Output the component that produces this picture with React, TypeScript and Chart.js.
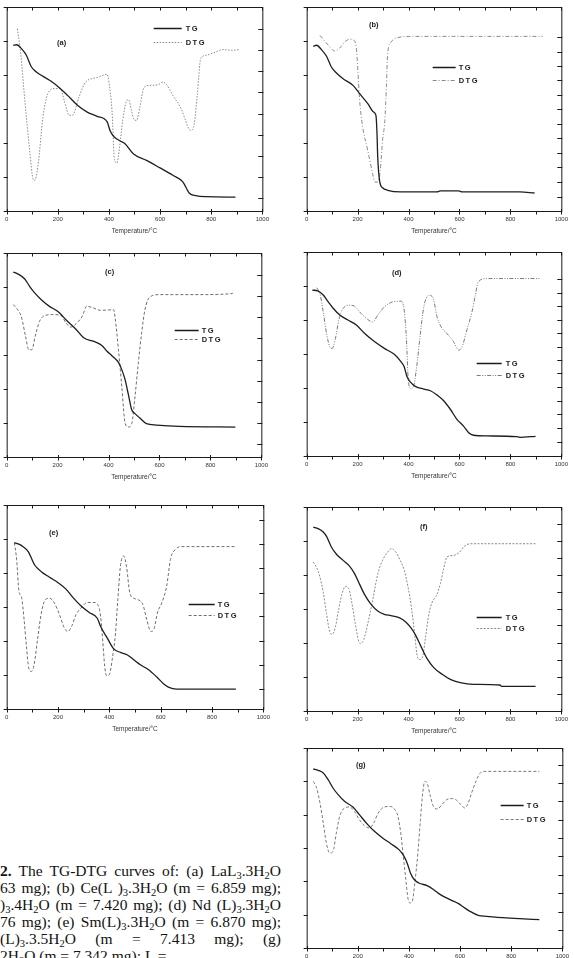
import React, { useEffect, useRef } from 'react';
import { Chart, registerables } from 'chart.js';
Chart.register(...registerables);

// ---------- shared axis data ----------
const xTickValues = [0, 200, 400, 600, 800, 1000];
const xTickLabels = ['0', '200', '400', '600', '800', '1000'];
const xMinorTicks = [0, 100, 200, 300, 400, 500, 600, 700, 800, 900, 1000];
const tgTicks = [0, 20, 40, 60, 80, 100, 120];

// ---------- (a) ----------
const aTgT = [26, 39, 58, 77, 97, 116, 142, 174, 206, 238, 277, 315, 354, 393, 405, 421, 444, 463, 495, 547, 598, 650, 689, 714, 740, 779, 895];
const aTgV = [97.5, 97.8, 95.5, 91.6, 84.7, 81.8, 79.2, 76.3, 72.5, 68.0, 62.2, 58.2, 55.7, 52.4, 47.1, 43.5, 41.2, 39.6, 33.7, 29.8, 25.5, 21.0, 17.1, 10.6, 9.0, 8.4, 8.2];
const aDtgT = [42, 55, 71, 90, 103, 109, 122, 142, 161, 187, 210, 225, 245, 257, 283, 309, 354, 393, 400, 412, 422, 431, 441, 454, 467, 477, 488, 498, 508, 521, 537, 560, 592, 611, 624, 650, 682, 695, 712, 721, 734, 746, 759, 779, 817, 843, 882, 907];
const aDtgV = [89.4, 77.1, 54.2, 29.7, 15.8, 15.0, 21.6, 46.1, 57.5, 60.0, 60.0, 54.2, 46.9, 46.9, 55.9, 63.2, 65.4, 67.0, 63.2, 49.3, 24.8, 23.5, 30.6, 44.4, 53.4, 54.6, 49.3, 44.8, 44.4, 51.0, 60.5, 61.6, 61.9, 63.2, 62.1, 56.7, 50.2, 46.1, 40.4, 39.5, 42.8, 57.5, 74.7, 76.3, 77.9, 79.1, 78.8, 79.1];
const aDtgTicks = [6.5, 16.7, 26.8, 37.3, 47.7, 58.2, 68.6, 79.1, 89.4];

// ---------- (b) ----------
const bTgT = [26, 39, 58, 78, 97, 117, 143, 182, 208, 240, 263, 272, 276, 279, 287, 298, 318, 370, 512, 525, 597, 610, 837, 895];
const bTgV = [96.9, 97.5, 94.9, 91.0, 84.7, 81.2, 77.8, 73.9, 69.0, 63.1, 58.2, 56.3, 46.5, 31.8, 17.1, 13.7, 12.2, 11.2, 11.2, 11.8, 11.8, 11.2, 11.2, 10.6];
const bDtgT = [52, 71, 91, 110, 130, 149, 169, 185, 195, 201, 208, 220, 240, 259, 268, 279, 289, 298, 307, 313, 318, 331, 357, 409, 577, 927];
const bDtgV = [86.1, 83.3, 80.4, 78.4, 79.9, 82.8, 84.2, 83.7, 79.9, 69.0, 54.2, 41.2, 29.7, 18.3, 14.2, 14.2, 19.9, 34.6, 44.4, 60.8, 77.1, 82.8, 85.0, 85.6, 85.6, 85.6];
const bDtgTicks = [6.9, 14.2, 21.6, 28.4, 35.8, 42.8, 50.2, 57.0, 64.1, 70.9, 77.9, 85.3];

// ---------- (c) ----------
const cTgT = [26, 45, 71, 90, 110, 136, 168, 200, 239, 271, 304, 342, 375, 394, 413, 439, 452, 465, 478, 491, 504, 523, 549, 588, 678, 898];
const cTgV = [108.8, 107.6, 104.7, 100.4, 96.5, 92.5, 88.6, 85.7, 79.8, 75.3, 70.0, 68.0, 65.5, 62.2, 59.6, 55.7, 51.4, 45.5, 36.7, 27.8, 25.5, 22.9, 19.6, 18.8, 18.0, 17.6];
const cDtgT = [26, 43, 58, 74, 87, 99, 112, 129, 149, 181, 213, 233, 252, 278, 297, 314, 342, 368, 420, 426, 439, 452, 465, 478, 491, 504, 517, 530, 543, 562, 601, 756, 885, 891];
const cDtgV = [74.7, 72.2, 68.6, 59.2, 52.6, 52.6, 59.2, 66.5, 69.3, 69.8, 69.4, 65.7, 63.7, 66.0, 69.0, 73.9, 73.0, 71.9, 72.2, 68.1, 52.6, 34.6, 16.7, 14.7, 16.3, 29.7, 46.1, 60.8, 72.2, 78.4, 79.6, 79.6, 80.1, 80.7];
const cDtgTicks = [6.5, 16.7, 26.8, 37.3, 47.7, 58.2, 68.6, 79.1, 89.4];

// ---------- (d) ----------
const dTgT = [22, 43, 65, 84, 104, 130, 162, 195, 227, 266, 305, 344, 370, 383, 393, 406, 428, 460, 486, 512, 538, 564, 590, 616, 636, 655, 707, 824, 837, 899];
const dTgV = [97.6, 97.1, 94.7, 90.8, 86.9, 82.9, 80.0, 77.1, 72.2, 67.3, 63.3, 59.8, 55.5, 52.5, 47.1, 43.7, 40.8, 39.4, 38.4, 35.9, 32.5, 27.5, 21.6, 17.6, 13.7, 12.2, 11.8, 11.4, 11.0, 11.6];
const dDtgT = [39, 52, 65, 78, 91, 100, 113, 126, 143, 169, 188, 214, 240, 259, 279, 305, 337, 370, 383, 392, 399, 409, 419, 432, 445, 460, 480, 497, 512, 528, 551, 577, 597, 610, 629, 649, 661, 674, 707, 914];
const dDtgV = [82.5, 79.6, 70.6, 60.0, 53.5, 52.7, 57.6, 66.6, 72.3, 73.9, 73.4, 69.8, 66.9, 65.7, 69.0, 73.1, 75.5, 75.9, 71.5, 56.8, 37.2, 33.1, 33.9, 43.7, 58.4, 73.1, 78.8, 77.2, 68.2, 63.3, 60.0, 56.0, 51.9, 53.5, 61.7, 70.6, 78.0, 85.3, 87.0, 87.0];
const dDtgTicks = [7.0, 13.5, 20.6, 27.1, 33.6, 40.5, 47.0, 53.5, 60.4, 66.9, 73.4, 79.9, 86.6];

// ---------- (e) ----------
const eTgT = [30, 45, 64, 84, 109, 135, 167, 199, 231, 257, 289, 321, 353, 366, 392, 418, 443, 469, 495, 521, 553, 585, 611, 630, 662, 893];
const eTgV = [97.8, 97.1, 95.5, 92.6, 84.7, 80.8, 77.5, 74.4, 70.5, 65.8, 60.7, 56.8, 53.4, 48.5, 41.7, 35.2, 33.3, 31.9, 29.0, 26.0, 23.1, 18.8, 14.9, 12.9, 11.7, 11.7];
const eDtgT = [30, 39, 48, 58, 68, 77, 86, 96, 107, 120, 135, 150, 167, 186, 206, 225, 238, 253, 270, 289, 315, 341, 357, 366, 374, 382, 389, 400, 411, 424, 433, 443, 456, 467, 480, 495, 514, 531, 546, 562, 575, 587, 604, 623, 639, 656, 681, 893];
const eDtgV = [81.6, 73.1, 57.6, 54.8, 43.7, 30.7, 20.1, 18.4, 21.7, 33.9, 47.0, 53.5, 54.3, 51.9, 46.2, 39.6, 38.0, 40.5, 46.2, 49.4, 52.2, 52.2, 50.6, 45.4, 33.9, 20.9, 16.3, 16.8, 24.1, 37.2, 53.5, 69.8, 75.0, 69.8, 56.8, 54.3, 53.5, 51.1, 43.7, 38.0, 39.6, 47.0, 51.9, 60.0, 73.9, 78.0, 79.6, 79.6];
const eDtgTicks = [9.8, 21.7, 33.4, 45.4, 57.1, 69.0, 80.8, 92.7];

// ---------- (f) ----------
const fTgT = [26, 45, 65, 78, 97, 117, 143, 169, 188, 208, 227, 253, 279, 305, 331, 363, 389, 409, 428, 447, 473, 499, 532, 564, 603, 655, 759, 765, 899];
const fTgV = [108.2, 107.3, 105.3, 102.7, 96.5, 92.2, 88.6, 85.1, 80.8, 74.5, 68.6, 62.7, 58.8, 56.9, 56.1, 54.9, 52.4, 49.0, 44.5, 38.6, 30.8, 25.5, 21.6, 18.6, 16.7, 15.7, 15.3, 14.5, 14.5];
const fDtgT = [26, 39, 52, 65, 78, 91, 100, 113, 126, 139, 152, 165, 178, 191, 204, 211, 224, 240, 259, 279, 298, 318, 333, 350, 367, 383, 398, 411, 424, 435, 445, 455, 467, 480, 493, 510, 525, 538, 551, 577, 601, 616, 642, 899];
const fDtgV = [73.0, 70.3, 65.7, 58.3, 47.7, 38.7, 37.6, 41.2, 50.2, 57.5, 61.1, 60.0, 52.6, 42.8, 34.3, 33.0, 35.0, 42.8, 54.2, 67.0, 73.9, 77.9, 79.6, 77.9, 73.9, 69.0, 60.8, 51.0, 37.9, 26.5, 25.2, 26.5, 36.3, 47.7, 53.4, 56.7, 62.4, 69.8, 75.5, 76.3, 77.9, 80.4, 82.0, 82.0];
const fDtgTicks = [8.5, 16.7, 25.2, 33.5, 42.0, 50.2, 58.3, 66.8, 75.0, 83.2, 91.8];

// ---------- (g) ----------
const gTgT = [26, 45, 65, 84, 103, 123, 148, 181, 206, 239, 265, 297, 329, 361, 381, 394, 406, 419, 439, 471, 497, 523, 561, 594, 613, 639, 671, 703, 768, 832, 910];
const gTgV = [107.4, 106.6, 105.0, 101.0, 96.0, 92.0, 88.0, 84.6, 80.0, 74.0, 70.0, 66.0, 62.6, 59.0, 55.0, 50.6, 45.0, 41.4, 39.0, 37.4, 35.0, 32.0, 29.0, 26.6, 24.6, 22.0, 19.6, 19.0, 18.2, 17.6, 17.0];
const gDtgT = [26, 39, 52, 65, 77, 90, 103, 116, 129, 148, 168, 187, 206, 226, 245, 262, 280, 303, 326, 345, 357, 368, 378, 388, 396, 404, 413, 423, 435, 445, 454, 462, 471, 484, 497, 512, 529, 548, 570, 587, 603, 619, 632, 645, 662, 677, 697, 910];
const gDtgV = [83.3, 80.0, 72.5, 62.5, 52.5, 47.5, 48.3, 57.5, 65.8, 70.0, 70.5, 68.3, 64.2, 61.2, 60.0, 62.5, 67.5, 70.5, 70.8, 69.2, 65.8, 57.5, 45.8, 34.2, 25.0, 22.5, 23.3, 32.5, 47.5, 64.2, 77.5, 83.3, 82.5, 75.8, 70.5, 69.5, 71.7, 74.2, 74.7, 73.8, 71.7, 70.0, 72.5, 77.5, 83.3, 87.2, 88.3, 88.3];
const gDtgTicks = [8.8, 17.8, 27.5, 36.7, 45.8, 55.0, 64.2, 73.3, 82.5, 91.7];

// ---------- layout ----------
const PAD_L = 5, PAD_R = 10, PAD_T = 4, AXIS_H = 24, PAD_B = 2;

type Panel = {
  label: string; left: number; top: number; w: number; h: number;
  tgT: number[]; tgV: number[]; dT: number[]; dV: number[]; dTicks: number[];
  dash: number[]; dColor: string;
  labelPos: [number, number]; legX: [number, number]; legY: [number, number]; legTextX: number;
};

const panels: Panel[] = [
  { label: '(a)', left: 5, top: 7, w: 259, h: 204, tgT: aTgT, tgV: aTgV, dT: aDtgT, dV: aDtgV, dTicks: aDtgTicks, dash: [1.5, 1.5], dColor: '#8a8a8a', labelPos: [55, 36], legX: [147, 175], legY: [21, 35], legTextX: 179 },
  { label: '(b)', left: 305, top: 7, w: 258, h: 204, tgT: bTgT, tgV: bTgV, dT: bDtgT, dV: bDtgV, dTicks: bDtgTicks, dash: [4, 2, 1, 2], dColor: '#8a8a8a', labelPos: [67, 18], legX: [126, 149], legY: [60, 73], legTextX: 152 },
  { label: '(c)', left: 5, top: 253, w: 258, h: 204, tgT: cTgT, tgV: cTgV, dT: cDtgT, dV: cDtgV, dTicks: cDtgTicks, dash: [3, 2], dColor: '#6e6e6e', labelPos: [103, 19], legX: [168, 192], legY: [77, 86], legTextX: 195 },
  { label: '(d)', left: 305, top: 252, w: 258, h: 204, tgT: dTgT, tgV: dTgV, dT: dDtgT, dV: dDtgV, dTicks: dDtgTicks, dash: [4, 1.5, 1, 1.5, 1, 1.5], dColor: '#7a7a7a', labelPos: [90, 21], legX: [170, 195], legY: [111, 123], legTextX: 199 },
  { label: '(e)', left: 5, top: 505, w: 260, h: 204, tgT: eTgT, tgV: eTgV, dT: eDtgT, dV: eDtgV, dTicks: eDtgTicks, dash: [3, 2], dColor: '#6e6e6e', labelPos: [47, 28], legX: [182, 208], legY: [99, 110], legTextX: 211 },
  { label: '(f)', left: 305, top: 507, w: 258, h: 204, tgT: fTgT, tgV: fTgV, dT: fDtgT, dV: fDtgV, dTicks: fDtgTicks, dash: [2, 1.5], dColor: '#8a8a8a', labelPos: [117, 20], legX: [170, 195], legY: [110, 121], legTextX: 199 },
  { label: '(g)', left: 305, top: 748, w: 259, h: 200, tgT: gTgT, tgV: gTgV, dT: gDtgT, dV: gDtgV, dTicks: gDtgTicks, dash: [3, 2], dColor: '#7a7a7a', labelPos: [54, 17], legX: [194, 217], legY: [57, 71], legTextX: 220 },
];

const FONT = '"Liberation Sans", Arial, sans-serif';

function PanelChart({ p }: { p: Panel }) {
  const ref = useRef<HTMLCanvasElement>(null);
  const cw = p.w + PAD_L + PAD_R;
  const ch = p.h + PAD_T + AXIS_H + PAD_B;

  useEffect(() => {
    const decor = {
      id: 'decor',
      afterDraw(chart: any) {
        const ctx = chart.ctx as CanvasRenderingContext2D;
        const { left, right, top, bottom } = chart.chartArea;
        const xs = chart.scales.x, yl = chart.scales.y, yr = chart.scales.y1;
        ctx.save();
        ctx.strokeStyle = '#1a1a1a';
        ctx.lineWidth = 1;
        ctx.setLineDash([]);
        ctx.strokeRect(left + 0.5, top + 0.5, right - left, bottom - top);
        ctx.beginPath();
        for (const v of xMinorTicks) {
          const px = Math.round(xs.getPixelForValue(v)) + 0.5;
          const major = v % 200 === 0;
          ctx.moveTo(px, bottom + (major ? -2 : 0));
          ctx.lineTo(px, bottom + 3.5);
          ctx.moveTo(px, top);
          ctx.lineTo(px, top + 3.5);
        }
        for (const v of tgTicks) {
          const py = Math.round(yl.getPixelForValue(v)) + 0.5;
          ctx.moveTo(left - 3, py);
          ctx.lineTo(left + 1, py);
        }
        for (const v of p.dTicks) {
          const py = Math.round(yr.getPixelForValue(v)) + 0.5;
          ctx.moveTo(right - 4, py);
          ctx.lineTo(right + 1, py);
        }
        ctx.stroke();

        // panel label
        ctx.fillStyle = '#222';
        ctx.font = `bold 7.5px ${FONT}`;
        ctx.textAlign = 'center';
        ctx.textBaseline = 'middle';
        ctx.fillText(p.label, left + p.labelPos[0], top + p.labelPos[1]);

        // legend
        ctx.beginPath();
        ctx.strokeStyle = '#1a1a1a';
        ctx.lineWidth = 1.5;
        ctx.moveTo(left + p.legX[0], top + p.legY[0] + 0.5);
        ctx.lineTo(left + p.legX[1], top + p.legY[0] + 0.5);
        ctx.stroke();
        ctx.beginPath();
        ctx.strokeStyle = p.dColor;
        ctx.lineWidth = 1;
        ctx.setLineDash(p.dash);
        ctx.moveTo(left + p.legX[0], top + p.legY[1] + 0.5);
        ctx.lineTo(left + p.legX[1], top + p.legY[1] + 0.5);
        ctx.stroke();
        ctx.setLineDash([]);
        ctx.font = `bold 7.5px ${FONT}`;
        ctx.textAlign = 'left';
        try { (ctx as any).letterSpacing = '1.5px'; } catch (e) {}
        ctx.fillStyle = '#222';
        ctx.fillText('TG', left + p.legTextX, top + p.legY[0] + 0.5);
        ctx.fillText('DTG', left + p.legTextX, top + p.legY[1] + 0.5);
        try { (ctx as any).letterSpacing = '0px'; } catch (e) {}
        ctx.restore();
      },
    };

    const chart = new Chart(ref.current as HTMLCanvasElement, {
      type: 'line',
      data: {
        datasets: [
          {
            label: 'TG',
            data: p.tgT.map((t, i) => ({ x: t, y: p.tgV[i] })),
            yAxisID: 'y',
            borderColor: '#1e1e1e',
            borderWidth: 1.3,
            pointRadius: 0,
            cubicInterpolationMode: 'monotone',
            fill: false,
          },
          {
            label: 'DTG',
            data: p.dT.map((t, i) => ({ x: t, y: p.dV[i] })),
            yAxisID: 'y1',
            borderColor: p.dColor,
            borderWidth: 1,
            borderDash: p.dash,
            pointRadius: 0,
            cubicInterpolationMode: 'monotone',
            fill: false,
          },
        ],
      },
      options: {
        responsive: false,
        animation: false,
        devicePixelRatio: 1,
        layout: { padding: { left: PAD_L, right: PAD_R, top: PAD_T, bottom: PAD_B } },
        plugins: { legend: { display: false }, tooltip: { enabled: false } },
        scales: {
          x: {
            type: 'linear',
            min: 0,
            max: 1000,
            afterFit: (s: any) => { s.height = AXIS_H; },
            afterBuildTicks: (s: any) => { s.ticks = xTickValues.map((v) => ({ value: v })); },
            ticks: {
              autoSkip: false,
              maxRotation: 0,
              padding: 5,
              color: '#333',
              font: { size: 6, family: FONT },
              callback: (_v: any, i: number) => xTickLabels[i],
            },
            grid: { display: false, drawTicks: false },
            border: { display: false },
            title: { display: true, text: 'Temperature/°C', color: '#333', font: { size: 6.5, family: FONT }, padding: 0 },
          },
          y: { display: false, min: 0, max: 120 },
          y1: { display: false, min: 0, max: 100 },
        },
      } as any,
      plugins: [decor],
    });
    return () => chart.destroy();
  }, []);

  return (
    <canvas
      ref={ref}
      width={cw}
      height={ch}
      style={{ position: 'absolute', left: p.left - PAD_L, top: p.top - PAD_T, width: cw, height: ch }}
    />
  );
}

const S = ({ children }: { children: React.ReactNode }) => (
  <sub style={{ fontSize: '10.5px', verticalAlign: '-3px', lineHeight: 0 }}>{children}</sub>
);

function Caption() {
  const lineStyle: React.CSSProperties = {
    height: '17px',
    textAlign: 'justify',
    textAlignLast: 'justify' as any,
  };
  const lastStyle: React.CSSProperties = { height: '17px', textAlign: 'left' };
  return (
    <div
      style={{
        position: 'absolute',
        left: 0,
        top: 862,
        width: 281,
        fontFamily: '"Liberation Serif", "Times New Roman", serif',
        fontSize: '15.5px',
        lineHeight: '17px',
        color: '#111',
      }}
    >
      <div style={lineStyle}><b>2.</b> The TG-DTG curves of: (a) LaL<S>3</S>.3H<S>2</S>O</div>
      <div style={lineStyle}>63 mg); (b) Ce(L )<S>3</S>.3H<S>2</S>O (m = 6.859 mg);</div>
      <div style={lineStyle}>)<S>3</S>.4H<S>2</S>O (m = 7.420 mg); (d) Nd (L)<S>3</S>.3H<S>2</S>O</div>
      <div style={lineStyle}>76 mg); (e) Sm(L)<S>3</S>.3H<S>2</S>O (m = 6.870 mg);</div>
      <div style={lineStyle}>(L)<S>3</S>.3.5H<S>2</S>O (m = 7.413 mg); (g)</div>
      <div style={lastStyle}>2H<S>2</S>O (m = 7.342 mg); L =</div>
    </div>
  );
}

export default function App() {
  return (
    <div style={{ position: 'absolute', left: 0, top: 0, width: 574, height: 958, overflow: 'hidden', background: '#fff' }}>
      {panels.map((p) => (
        <PanelChart key={p.label} p={p} />
      ))}
      <Caption />
    </div>
  );
}
